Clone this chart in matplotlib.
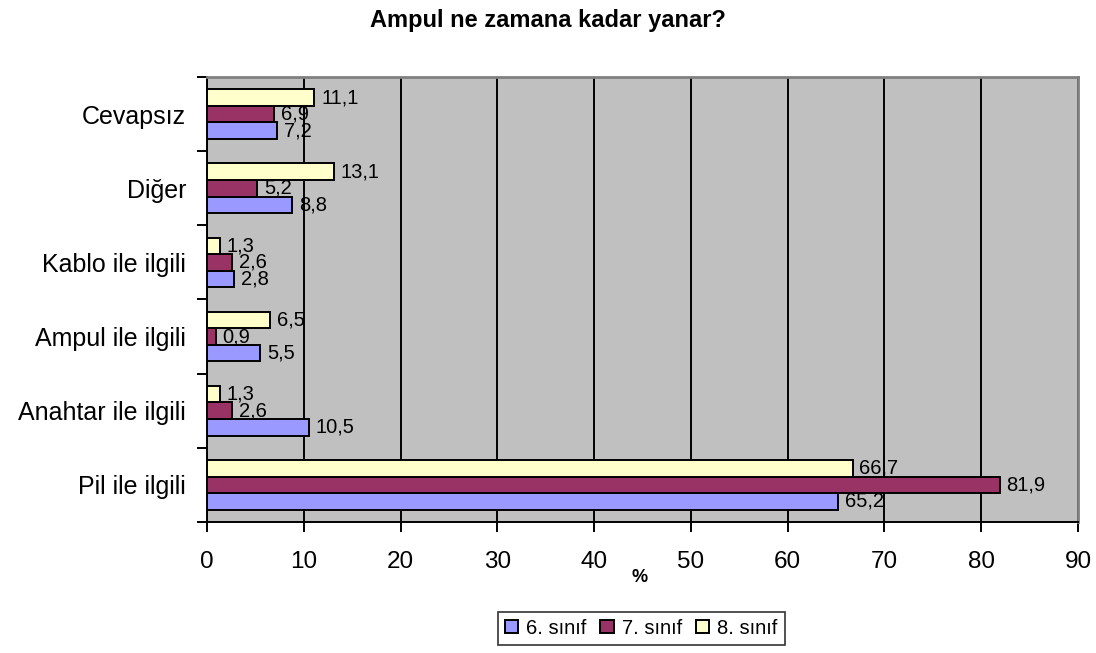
import matplotlib
matplotlib.use('Agg')
import matplotlib.pyplot as plt
import numpy as np

plt.rcParams['font.family'] = ['Liberation Sans', 'DejaVu Sans']

categories = ['Pil ile ilgili', 'Anahtar ile ilgili', 'Ampul ile ilgili',
              'Kablo ile ilgili', 'Diğer', 'Cevapsız']
series_names = ['6. sınıf', '7. sınıf', '8. sınıf']
sinif6 = [65.2, 10.5, 5.5, 2.8, 8.8, 7.2]
sinif7 = [81.9, 2.6, 0.9, 2.6, 5.2, 6.9]
sinif8 = [66.7, 1.3, 6.5, 1.3, 13.1, 11.1]
colors = ['#9999FF', '#993366', '#FFFFCC']

fig = plt.figure(figsize=(10.96, 6.53), dpi=100)
ax = fig.add_axes([0.1889, 0.2006, 0.7947, 0.6815])
ax.set_facecolor('#C0C0C0')

y = np.arange(len(categories))
h = 0.223
for i, (vals, name, col) in enumerate(zip([sinif6, sinif7, sinif8], series_names, colors)):
    pos = y + (i - 1) * h
    ax.barh(pos, vals, height=h, color=col, edgecolor='black', linewidth=1.4,
            label=name, zorder=3)
    for p, v in zip(pos, vals):
        ax.annotate(f'{v:.1f}'.replace('.', ','), (v, p), xytext=(5, 0),
                    textcoords='offset points', va='center', ha='left',
                    fontsize=14.5, zorder=4)

ax.set_xlim(0, 90)
ax.set_ylim(-0.5, len(categories) - 0.5)
ax.set_xticks(np.arange(0, 91, 10))
ax.xaxis.grid(True, color='black', linewidth=1.4, zorder=1)
ax.set_yticks(y)
ax.set_yticklabels(categories)
ax.set_yticks(np.arange(-0.5, len(categories), 1), minor=True)
ax.tick_params(axis='y', which='major', length=0, labelsize=18, pad=15)
ax.tick_params(axis='y', which='minor', length=7, width=1.4, direction='out')
ax.tick_params(axis='x', length=7, width=1.4, direction='out', labelsize=17.5, pad=14)

for s in ['top', 'right']:
    ax.spines[s].set_color('#808080')
    ax.spines[s].set_linewidth(2)
for s in ['left', 'bottom']:
    ax.spines[s].set_color('black')
    ax.spines[s].set_linewidth(1.4)

fig.text(640 / 1096, 1 - 577 / 653, '%', fontsize=13, fontweight='bold',
         ha='center', va='center')

fig.text(0.5, 1 - 20 / 653, 'Ampul ne zamana kadar yanar?', fontsize=17,
         fontweight='bold', ha='center', va='center')

leg = fig.legend(loc='center', bbox_to_anchor=(0.585, 0.038), ncol=3, fontsize=14.5,
                 frameon=True, fancybox=False, edgecolor='black', handlelength=0.65,
                 handleheight=0.65, handletextpad=0.4, columnspacing=0.7,
                 borderpad=0.35, borderaxespad=0)
leg.get_frame().set_linewidth(1.2)
for patch in leg.get_patches():
    patch.set_linewidth(1.4)

fig.savefig('out.png', dpi=100)
